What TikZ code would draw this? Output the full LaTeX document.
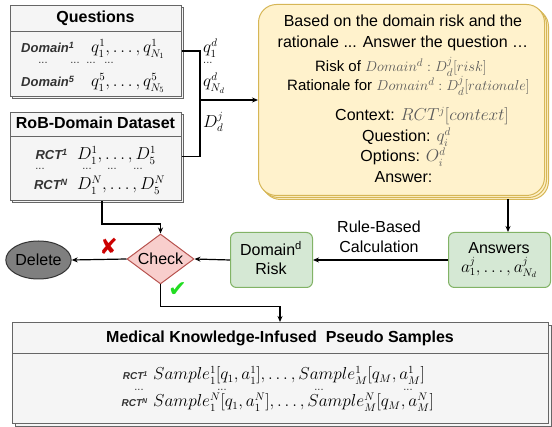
\documentclass[tikz,border=0pt]{standalone}
\usepackage{fontspec}
\setmainfont{Liberation Sans}
\newfontfamily\symfont{DejaVu Sans}
\usetikzlibrary{arrows.meta,shapes.geometric,calc}
\definecolor{grayfill}{HTML}{F5F5F5}
\definecolor{grayline}{HTML}{666666}
\definecolor{yelfill}{HTML}{FFF2CC}
\definecolor{yelline}{HTML}{D6B656}
\definecolor{grnfill}{HTML}{D5E8D4}
\definecolor{grnline}{HTML}{82B366}
\definecolor{redfill}{HTML}{F8CECC}
\definecolor{redline}{HTML}{B85450}
\definecolor{txt}{HTML}{333333}
\definecolor{mgray}{HTML}{5A5A5A}
\definecolor{delfill}{HTML}{7F7F7F}
\definecolor{xred}{HTML}{CC0000}
\definecolor{okgreen}{HTML}{22DD22}
\newcommand{\myfs}[1]{\fontsize{#1}{#1}\selectfont}
\tikzset{
  panel/.style={draw=grayline, fill=grayfill, line width=1pt, inner sep=0pt, anchor=north west},
  yel/.style={draw=yelline, fill=yelfill, line width=1pt, rounded corners=18pt, inner sep=0pt, anchor=north west},
  gbox/.style={draw=grnline, fill=grnfill, line width=1pt, rounded corners=6pt, inner sep=0pt, anchor=north west},
  title/.style={font=\myfs{16}\bfseries, text=black, anchor=base, inner sep=0pt},
  lbl/.style={font=\myfs{13}\bfseries\itshape, text=txt, anchor=base, inner sep=0pt},
  tx/.style={font=\myfs{16}, text=black, anchor=base, inner sep=0pt},
  txs/.style={font=\myfs{15}, text=black, anchor=base, inner sep=0pt},
  dots/.style={font=\myfs{11}, text=txt, anchor=base, inner sep=0pt},
  line/.style={line width=1.2pt, draw=black},
  conn/.style={line width=1.2pt, draw=black, -{Stealth[length=6pt,width=5pt]}},
  tickmark/.style={font=\symfont\myfs{22}, inner sep=0pt},
}
\begin{document}
\begin{tikzpicture}[x=1pt,y=-1pt]
\useasboundingbox (0,0) rectangle (552,427);

% ---------- Questions panel
\node[panel, minimum width=171, minimum height=91] (qsh) at (12,7) {};
\node[panel, minimum width=171, minimum height=91] (qbox) at (10,5) {};
\draw[draw=grayline, line width=1pt] (10,32) -- (181,32);
\node[title] (qtitle) at (95.5,23) {Questions};
\node[lbl, anchor=base west] (qd1) at (21,53) {Domain\textsuperscript{1}};
\node[tx, anchor=base west] (qm1) at (91,53) {$q_1^1,\ldots,q_{N_1}^1$};
\node[dots] (qdt1) at (43,64) {...};
\node[dots] (qdt2) at (75,64) {...};
\node[dots] (qdt3) at (91,64) {...};
\node[dots] (qdt4) at (109,64) {...};
\node[lbl, anchor=base west] (qd5) at (21,87) {Domain\textsuperscript{5}};
\node[tx, anchor=base west] (qm5) at (91,87) {$q_1^5,\ldots,q_{N_5}^5$};

% ---------- RoB-Domain Dataset panel
\node[panel, minimum width=171, minimum height=88] (rsh) at (12,114) {};
\node[panel, minimum width=171, minimum height=88] (rob) at (10,112) {};
\draw[draw=grayline, line width=1pt] (10,137) -- (181,137);
\node[title] (rtitle) at (95.5,129) {RoB-Domain Dataset};
\node[lbl, anchor=base east] (r1) at (68,160) {RCT\textsuperscript{1}};
\node[tx, anchor=base west] (rm1) at (77,160) {$D_1^1,\ldots,D_5^1$};
\node[dots] (rdt0) at (40,170) {...};
\node[dots] (rdt1) at (87,170) {...};
\node[dots] (rdt2) at (112,170) {...};
\node[dots] (rdt3) at (138,170) {...};
\node[lbl, anchor=base east] (rN) at (68,190) {RCT\textsuperscript{N}};
\node[tx, anchor=base west] (rmN) at (77,190) {$D_1^N,\ldots,D_5^N$};

% ---------- Yellow prompt box
\node[yel, minimum width=286, minimum height=191] (ysh2) at (262,8) {};
\node[yel, minimum width=286, minimum height=191] (ysh1) at (260,6) {};
\node[yel, minimum width=286, minimum height=191] (prompt) at (258,4) {};
\node[tx] (p1) at (403,27) {Based on the domain risk and the};
\node[tx] (p2) at (403,48) {rationale ... Answer the question …};
\node[txs] (p3) at (401,72) {Risk of \color{mgray}$Domain^d:D_d^j[risk]$};
\node[txs] (p4) at (408.5,91) {Rationale for \color{mgray}$Domain^d:D_d^j[rationale]$};
\node[tx] (p5) at (422,121) {Context: \color{mgray}$RCT^j[context]$};
\node[tx] (p6) at (406.5,142) {Question: \color{mgray}$q_i^d$};
\node[tx] (p7) at (403,162) {Options: \color{mgray}$O_i^d$};
\node[tx] (p8) at (403.5,183) {Answer:};

% ---------- connectors into prompt
\coordinate (jn) at (200,100);
\draw[line] (qbox.east) -| (jn);
\draw[line] (rob.east) -| (jn);
\draw[conn] (jn) -- (jn -| prompt.west);
\node[tx, anchor=base west] (lq1) at (203,53) {$q_1^d$};
\node[dots, anchor=base west] (lqd) at (203,64) {...};
\node[tx, anchor=base west] (lqN) at (203,87) {$q_{N_d}^d$};
\node[tx, anchor=base west] (lD) at (203,128) {$D_d^j$};

% ---------- Answers & Domain risk
\node[gbox, minimum width=102, minimum height=55] (ans) at (448,232) {};
\node[tx] (ans1) at (499,254) {Answers};
\node[tx] (ans2) at (499,273) {$a_1^j,\ldots,a_{N_d}^j$};
\node[gbox, minimum width=82, minimum height=55] (risk) at (230,232) {};
\node[tx] (risk1) at (271,256) {Domain\textsuperscript{d}};
\node[tx] (risk2) at (271,275) {Risk};
\coordinate (pbot) at (508,199);
\draw[conn] (pbot) -- (pbot |- ans.north);
\draw[conn] (ans.west) -- (risk.east);
\node[tx] (rb1) at (379,233) {Rule-Based};
\node[tx] (rb2) at (379,253) {Calculation};

% ---------- Check / Delete
\node[diamond, draw=redline, fill=redfill, line width=1pt, aspect=1.34, inner sep=0pt,
      minimum width=67, minimum height=50, font=\myfs{16}] (chk) at (160.5,259) {Check};
\node[ellipse, draw=txt, fill=delfill, line width=1pt, inner sep=0pt,
      minimum width=59, minimum height=38, font=\myfs{16}] (del) at (38.5,260) {Delete};
\draw[conn] (risk.west) -- (chk.east);
\draw[conn] (chk.west) -- (del.east);
\draw[conn] ([xshift=6pt]rob.south) -- ++(0,23) -| (chk.north);
\node[tickmark, text=xred] (xmark) at (108.5,246) {✘};
\node[tickmark, text=okgreen] (okmark) at (177.5,290) {✔};

% ---------- Medical Knowledge-Infused Pseudo Samples
\node[panel, minimum width=536, minimum height=101] (msh) at (15,325) {};
\node[panel, minimum width=536, minimum height=101] (med) at (12,322) {};
\draw[draw=grayline, line width=1pt] (12,354) -- (548,354);
\coordinate (mtop) at (280,322);
\draw[conn] (chk.south) -- ++(0,22) -| (mtop);
\node[title] (mtitle) at (280,343) {Medical Knowledge-Infused\ \ Pseudo Samples};
\node[lbl, font=\myfs{10}\bfseries\itshape, anchor=base east] (m1) at (148,380) {RCT\textsuperscript{1}};
\node[tx, anchor=base west] (mm1) at (153,380) {$Sample_1^1[q_1,a_1^1],\ldots,Sample_M^1[q_M,a_M^1]$};
\node[dots] (mdt0) at (139,391) {...};
\node[dots] (mdt1) at (222,391) {...};
\node[dots] (mdt2) at (319,391) {...};
\node[dots] (mdt3) at (408,391) {...};
\node[lbl, font=\myfs{10}\bfseries\itshape, anchor=base east] (mN) at (148,407) {RCT\textsuperscript{N}};
\node[tx, anchor=base west] (mmN) at (153,407) {$Sample_1^N[q_1,a_1^N],\ldots,Sample_M^N[q_M,a_M^N]$};
\end{tikzpicture}
\end{document}
